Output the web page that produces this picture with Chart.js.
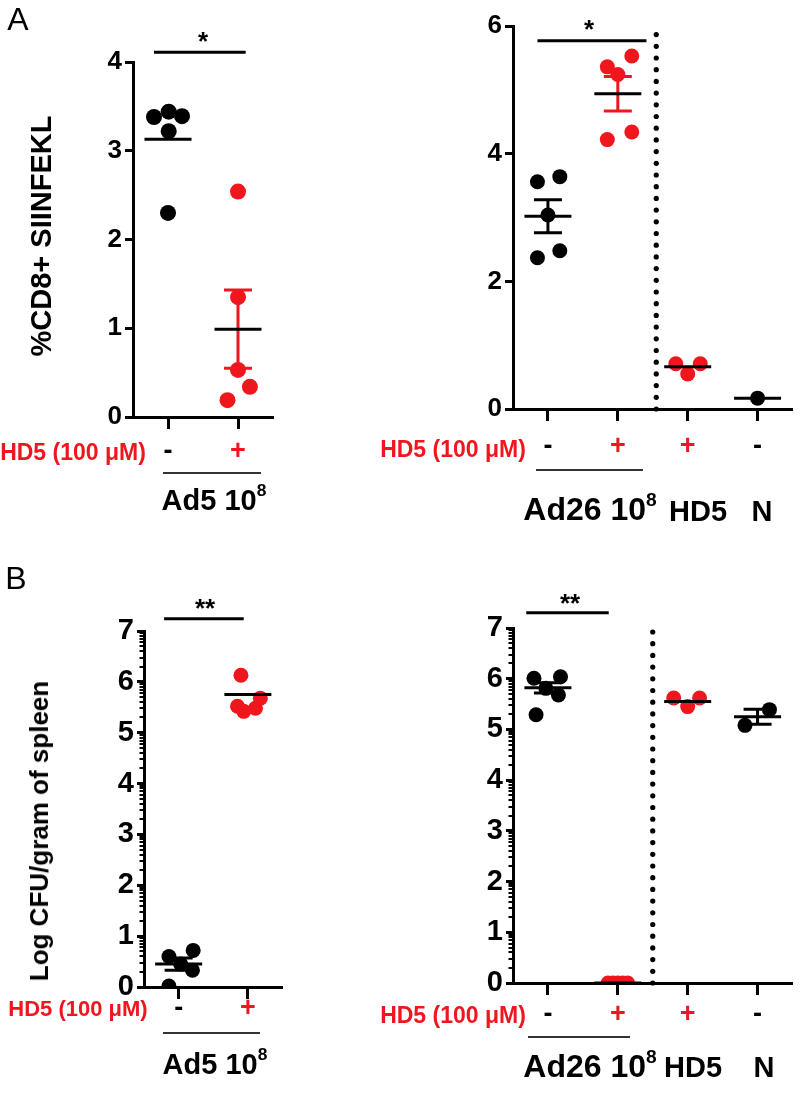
<!DOCTYPE html>
<html><head><meta charset="utf-8">
<script src="https://cdn.jsdelivr.net/npm/chart.js@4.4.1/dist/chart.umd.min.js"></script>
<style>
html,body{margin:0;padding:0;background:#fff;}
body{width:800px;height:1105px;position:relative;overflow:hidden;font-family:"Liberation Sans",Arial,sans-serif;}
canvas{position:absolute;}
.t{position:absolute;transform:translate(-50%,-50%);white-space:nowrap;font-weight:bold;line-height:1;color:#000;}
.red{color:rgb(240,22,30);}
.rot{transform:translate(-50%,-50%) rotate(-90deg);}
.ul{position:absolute;height:1.5px;background:#333;}
sup{font-size:0.6em;vertical-align:0.75em;line-height:0;}
</style></head>
<body>
<canvas id="a1" width="290" height="530" style="left:0;top:0"></canvas>
<canvas id="a2" width="420" height="530" style="left:380px;top:0"></canvas>
<canvas id="b1" width="290" height="545" style="left:0;top:560px"></canvas>
<canvas id="b2" width="420" height="545" style="left:380px;top:560px"></canvas>

<div class="t" style="left:18px;top:19px;font-size:32px;font-weight:normal">A</div>
<div class="t" style="left:16px;top:578px;font-size:32px;font-weight:normal">B</div>

<div class="t rot" style="left:41px;top:236px;font-size:29px">%CD8+ SIINFEKL</div>
<div class="t rot" style="left:39px;top:831px;font-size:26px">Log CFU/gram of spleen</div>

<div class="t" style="left:203px;top:41px;font-size:26px">*</div>
<div class="t" style="left:589px;top:29px;font-size:26px">*</div>
<div class="t" style="left:205px;top:608px;font-size:26px">**</div>
<div class="t" style="left:570px;top:603px;font-size:26px">**</div>

<div class="t red" style="left:73px;top:452px;font-size:23px">HD5 (100 μM)</div>
<div class="t red" style="left:453px;top:449px;font-size:23px">HD5 (100 μM)</div>
<div class="t red" style="left:78px;top:1009px;font-size:22px">HD5 (100 μM)</div>
<div class="t red" style="left:453px;top:1015px;font-size:23px">HD5 (100 μM)</div>

<div class="ul" style="left:163px;top:472px;width:98px"></div>
<div class="ul" style="left:536px;top:469px;width:107px"></div>
<div class="ul" style="left:163px;top:1032px;width:97px"></div>
<div class="ul" style="left:528px;top:1036px;width:102px"></div>

<div class="t" style="left:214px;top:500px;font-size:29px">Ad5 10<sup>8</sup></div>
<div class="t" style="left:590px;top:509px;font-size:32px">Ad26 10<sup>8</sup></div>
<div class="t" style="left:698px;top:511px;font-size:29px">HD5</div>
<div class="t" style="left:762px;top:511px;font-size:29px">N</div>

<div class="t" style="left:215px;top:1064px;font-size:29px">Ad5 10<sup>8</sup></div>
<div class="t" style="left:590px;top:1066px;font-size:32px">Ad26 10<sup>8</sup></div>
<div class="t" style="left:693px;top:1067px;font-size:29px">HD5</div>
<div class="t" style="left:764px;top:1067px;font-size:29px">N</div>

<script>
// ---------- DATA ----------
// Panel A left: %CD8+ SIINFEKL, Ad5 10^8
const a1Labels = ['-', '+'];
const a1Values = [[3.38, 3.44, 3.39, 3.22, 2.30], [2.54, 1.35, 0.53, 0.34, 0.19]];
const a1Jitter = [[-0.20, 0.01, 0.20, 0.01, 0.00], [0.00, 0.00, 0.00, 0.17, -0.15]];
const a1Mean = [3.13, 0.99];
const a1Sem = [null, 0.44];
const a1Ticks = [0, 1, 2, 3, 4];

// Panel A right: Ad26 10^8, HD5, N
const a2Labels = ['-', '+', '+', '-'];
const a2Values = [[3.56, 3.64, 3.04, 2.37, 2.48], [5.36, 5.53, 5.24, 4.22, 4.34], [0.71, 0.71, 0.55], [0.17]];
const a2Jitter = [[-0.15, 0.17, 0.00, -0.15, 0.17], [-0.15, 0.20, 0.00, -0.15, 0.20], [-0.17, 0.18, 0.00], [0.00]];
const a2Mean = [3.02, 4.94, 0.66, 0.17];
const a2Sem = [0.26, 0.27, null, null];
const a2Ticks = [0, 2, 4, 6];

// Panel B left: Log CFU/gram of spleen, Ad5 10^8
const b1Labels = ['-', '+'];
const b1Values = [[0.60, 0.72, 0.45, 0.33, 0.02], [6.13, 5.52, 5.42, 5.48, 5.68]];
const b1Jitter = [[-0.14, 0.21, 0.03, 0.20, -0.14], [-0.10, -0.15, -0.06, 0.11, 0.18]];
const b1Mean = [0.45, 5.75];
const b1Sem = [0.12, null];
const b1Ticks = [0, 1, 2, 3, 4, 5, 6, 7];

// Panel B right: Ad26 10^8, HD5, N
const b2Labels = ['-', '+', '+', '-'];
const b2Values = [[6.01, 6.04, 5.29, 5.68, 5.81], [0, 0, 0, 0, 0], [5.62, 5.62, 5.45], [5.39, 5.08]];
const b2Jitter = [[-0.20, 0.18, -0.17, 0.15, -0.03], [-0.14, -0.07, 0.00, 0.07, 0.14], [-0.20, 0.17, 0.00], [0.17, -0.18]];
const b2Mean = [5.82, 0, 5.55, 5.25];
const b2Sem = [0.10, null, null, 0.15];
const b2Ticks = [0, 1, 2, 3, 4, 5, 6, 7];

// significance bars [x1, x2, y] in data units
const a1Sig = [-0.20, 1.11, 4.11];
const a2Sig = [-0.15, 1.41, 5.77];
const b1Sig = [-0.21, 0.94, 7.24];
const b2Sig = [-0.31, 0.87, 7.30];

// ---------- STYLE / DRAW ----------
const RED = 'rgb(240,22,30)';
const BLK = '#000';
const FONT = '"Liberation Sans", Arial, sans-serif';

const annot = {
  id: 'annot',
  afterDatasetsDraw(chart, args, o) {
    const ctx = chart.ctx, xs = chart.scales.x, ys = chart.scales.y, ca = chart.chartArea;
    ctx.save();
    if (o.logMinor) {
      ctx.strokeStyle = BLK; ctx.lineWidth = 2;
      for (let n = 0; n < o.ymax; n++) {
        for (let k = 2; k <= 9; k++) {
          const y = Math.round(ys.getPixelForValue(n + Math.log10(k)));
          ctx.beginPath(); ctx.moveTo(ca.left - 4.5, y); ctx.lineTo(ca.left, y); ctx.stroke();
        }
      }
    }
    if (o.dotted != null) {
      const x = xs.getPixelForValue(o.dotted);
      const y0 = ys.getPixelForValue(0), y1 = ys.getPixelForValue(o.ymax);
      ctx.fillStyle = BLK;
      for (let y = y0; y >= y1 - 1; y -= 11.7) {
        ctx.beginPath(); ctx.arc(x, y, 2.6, 0, Math.PI * 2); ctx.fill();
      }
    }
    o.means.forEach((m, g) => {
      const x = xs.getPixelForValue(g);
      const s = o.sems[g];
      if (s != null) {
        const yt = ys.getPixelForValue(m + s), yb = ys.getPixelForValue(m - s);
        ctx.strokeStyle = o.colors[g]; ctx.lineWidth = 3;
        ctx.beginPath();
        ctx.moveTo(x, yt); ctx.lineTo(x, yb);
        ctx.moveTo(x - 14, yt); ctx.lineTo(x + 14, yt);
        ctx.moveTo(x - 14, yb); ctx.lineTo(x + 14, yb);
        ctx.stroke();
      }
      const ym = ys.getPixelForValue(m);
      ctx.strokeStyle = BLK; ctx.lineWidth = 3;
      ctx.beginPath(); ctx.moveTo(x - 23.5, ym); ctx.lineTo(x + 23.5, ym); ctx.stroke();
    });
    if (o.sig) {
      const y = ys.getPixelForValue(o.sig[2]);
      ctx.strokeStyle = BLK; ctx.lineWidth = 3;
      ctx.beginPath(); ctx.moveTo(xs.getPixelForValue(o.sig[0]), y); ctx.lineTo(xs.getPixelForValue(o.sig[1]), y); ctx.stroke();
    }
    ctx.restore();
  }
};

function makeChart(id, p) {
  const datasets = p.values.map((vals, g) => ({
    data: vals.map((v, i) => ({ x: g + p.jitter[g][i], y: v })),
    backgroundColor: p.colors[g], borderColor: p.colors[g],
    pointRadius: p.r, pointHoverRadius: p.r, borderWidth: 0
  }));
  return new Chart(document.getElementById(id), {
    type: 'scatter',
    data: { datasets },
    options: {
      responsive: false, animation: false, events: [],
      layout: { padding: { top: p.top, right: p.right, left: 0, bottom: 0 } },
      plugins: {
        legend: { display: false }, tooltip: { enabled: false },
        annot: { means: p.means, sems: p.sems, colors: p.colors, sig: p.sig, dotted: p.dotted, ymax: p.ymax, logMinor: p.logMinor }
      },
      scales: {
        x: {
          type: 'linear', min: -0.5, max: p.labels.length - 0.5,
          afterBuildTicks: s => { s.ticks = p.labels.map((l, i) => ({ value: i })); },
          afterFit: s => { s.height = p.xH; },
          ticks: {
            autoSkip: false, maxRotation: 0, padding: p.xPad,
            callback: v => p.labels[Math.round(v)],
            color: c => (p.labels[Math.round(c.tick.value)] === '+' ? RED : BLK),
            font: { family: FONT, size: 27, weight: 'bold', lineHeight: 1 }
          },
          grid: { drawOnChartArea: false, drawTicks: true, tickLength: 12, tickWidth: 3, tickColor: BLK },
          border: { display: true, width: 3, color: BLK }
        },
        y: {
          min: 0, max: p.ymax,
          afterBuildTicks: s => { s.ticks = p.yTicks.map(v => ({ value: v })); },
          afterFit: s => { s.width = p.yW; },
          ticks: { color: BLK, padding: 3, font: { family: FONT, size: p.yFont, weight: 'bold', lineHeight: 1 } },
          grid: { drawOnChartArea: false, drawTicks: true, tickLength: p.yTL, tickWidth: 3, tickColor: BLK },
          border: { display: true, width: 3, color: BLK }
        }
      }
    },
    plugins: [annot]
  });
}

makeChart('a1', { labels: a1Labels, values: a1Values, jitter: a1Jitter, means: a1Mean, sems: a1Sem, yTicks: a1Ticks,
  colors: [BLK, RED], r: 8, ymax: 4, top: 62, right: 17, yW: 133, xH: 113, xPad: 9.5, yFont: 26, yTL: 8, sig: a1Sig });
makeChart('a2', { labels: a2Labels, values: a2Values, jitter: a2Jitter, means: a2Mean, sems: a2Sem, yTicks: a2Ticks,
  colors: [BLK, RED, RED, BLK], r: 7.5, ymax: 6, top: 26, right: 3, yW: 133, xH: 121, xPad: 12.5, yFont: 26, yTL: 8, sig: a2Sig, dotted: 1.55 });
makeChart('b1', { labels: b1Labels, values: b1Values, jitter: b1Jitter, means: b1Mean, sems: b1Sem, yTicks: b1Ticks,
  colors: [BLK, RED], r: 7.5, ymax: 7, top: 71, right: 6, yW: 144, xH: 118, xPad: -3.5, yFont: 29, yTL: 7, sig: b1Sig, logMinor: true });
makeChart('b2', { labels: b2Labels, values: b2Values, jitter: b2Jitter, means: b2Mean, sems: b2Sem, yTicks: b2Ticks,
  colors: [BLK, RED, RED, BLK], r: 7.5, ymax: 7, top: 68, right: 3, yW: 133, xH: 122, xPad: 6, yFont: 29, yTL: 7, sig: b2Sig, dotted: 1.5, logMinor: true });
</script>
</body></html>
